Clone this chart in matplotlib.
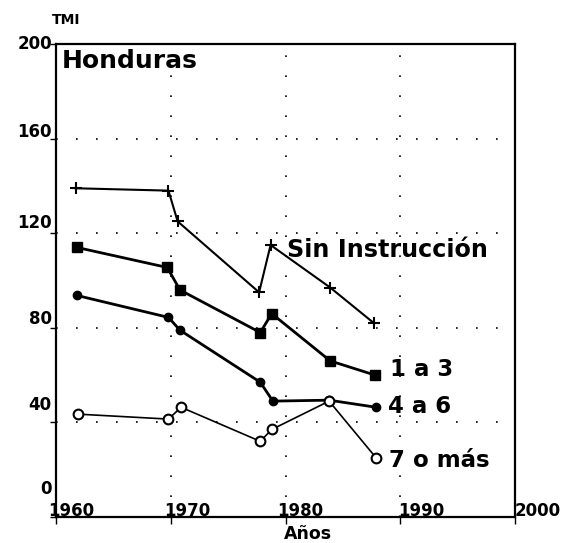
import matplotlib
matplotlib.use("Agg")
import matplotlib.pyplot as plt

# Data
sin_x = [1961.7, 1969.8, 1970.6, 1977.7, 1978.7, 1983.9, 1987.7]
sin_y = [139, 138, 125, 95, 115, 97, 82]

uno_x = [1961.8, 1969.7, 1970.8, 1977.8, 1978.8, 1983.9, 1987.8]
uno_y = [114, 105.5, 96, 78, 86, 66, 60]

cuatro_x = [1961.8, 1969.8, 1970.8, 1977.8, 1978.9, 1983.8, 1987.9]
cuatro_y = [93.7, 84.4, 79, 57, 49, 49.4, 46.4]

siete_x = [1961.9, 1969.8, 1970.9, 1977.8, 1978.8, 1983.8, 1987.9]
siete_y = [43.5, 41.4, 46.4, 32, 37, 49, 25]

series_labels = ["Sin Instrucción", "1 a 3", "4 a 6", "7 o más"]
xticks = [1960, 1970, 1980, 1990, 2000]
yticks = [0, 40, 80, 120, 160, 200]

plt.rcParams['font.family'] = ['DejaVu Sans']
plt.rcParams['font.weight'] = 'bold'

fig = plt.figure(figsize=(5.69, 5.43), dpi=100)
ax = fig.add_axes([56 / 569, 1 - 517 / 543, 459 / 569, 473 / 543])
ax.set_xlim(1960, 2000)
ax.set_ylim(0, 200)

# dotted grid
for v in [40, 80, 120, 160]:
    ax.axhline(v, color='black', lw=1.2, ls=(0, (1, 11)), zorder=1)
for v in [1970, 1980, 1990]:
    ax.axvline(v, color='black', lw=1.2, ls=(0, (1, 11)), zorder=1)

ax.plot(sin_x, sin_y, color='black', lw=1.5, marker='+', ms=9, mew=1.5)
ax.plot(uno_x, uno_y, color='black', lw=2, marker='s', ms=6.5)
ax.plot(cuatro_x, cuatro_y, color='black', lw=2, marker='o', ms=6)
ax.plot(siete_x, siete_y, color='black', lw=1.2, marker='o', ms=7,
        mfc='white', mew=1.5)

lab_pos = [(1980.1, 113), (1989.1, 62.4), (1988.9, 46.8), (1989.0, 24)]
lab_size = [17.2, 16.5, 16.5, 16.5]
for (lx, ly), fs, txt in zip(lab_pos, lab_size, series_labels):
    ax.text(lx, ly, txt, fontsize=fs, fontweight='heavy', va='center', ha='left')

ax.text(0.013, 0.99, "Honduras", transform=ax.transAxes, fontsize=18,
        fontweight='heavy', va='top', ha='left')

for s in ax.spines.values():
    s.set_linewidth(1.6)

ax.set_xticks(xticks)
ax.set_yticks(yticks)
ax.set_xticklabels([])
ax.set_yticklabels([])
ax.tick_params(axis='x', direction='out', length=5, width=1)
ax.tick_params(axis='y', direction='out', length=4, width=1)

# tick labels with the odd offsets of the original
y_off = [28, 17, 9, 10, 7, 0]
for v, off in zip(yticks, y_off):
    ax.annotate(str(v), xy=(0, v), xycoords=('axes fraction', 'data'),
                xytext=(-3, off * 0.72), textcoords='offset points',
                ha='right', va='center', fontsize=12, fontweight='heavy')
x_off = [-8, -7, -8, -2, 0]
for v, off in zip(xticks, x_off):
    ax.annotate(str(v), xy=(v, 0), xycoords=('data', 'axes fraction'),
                xytext=(off * 0.72, 4), textcoords='offset points',
                ha='left', va='center', fontsize=12, fontweight='heavy')

ax.text(0.55, -0.035, "Años", transform=ax.transAxes, fontsize=12.5,
        fontweight='heavy', ha='center', va='center')
ax.text(-0.01, 1.05, "TMI", transform=ax.transAxes, fontsize=10,
        fontweight='heavy', ha='left', va='center')

fig.savefig("out.png", dpi=100)
